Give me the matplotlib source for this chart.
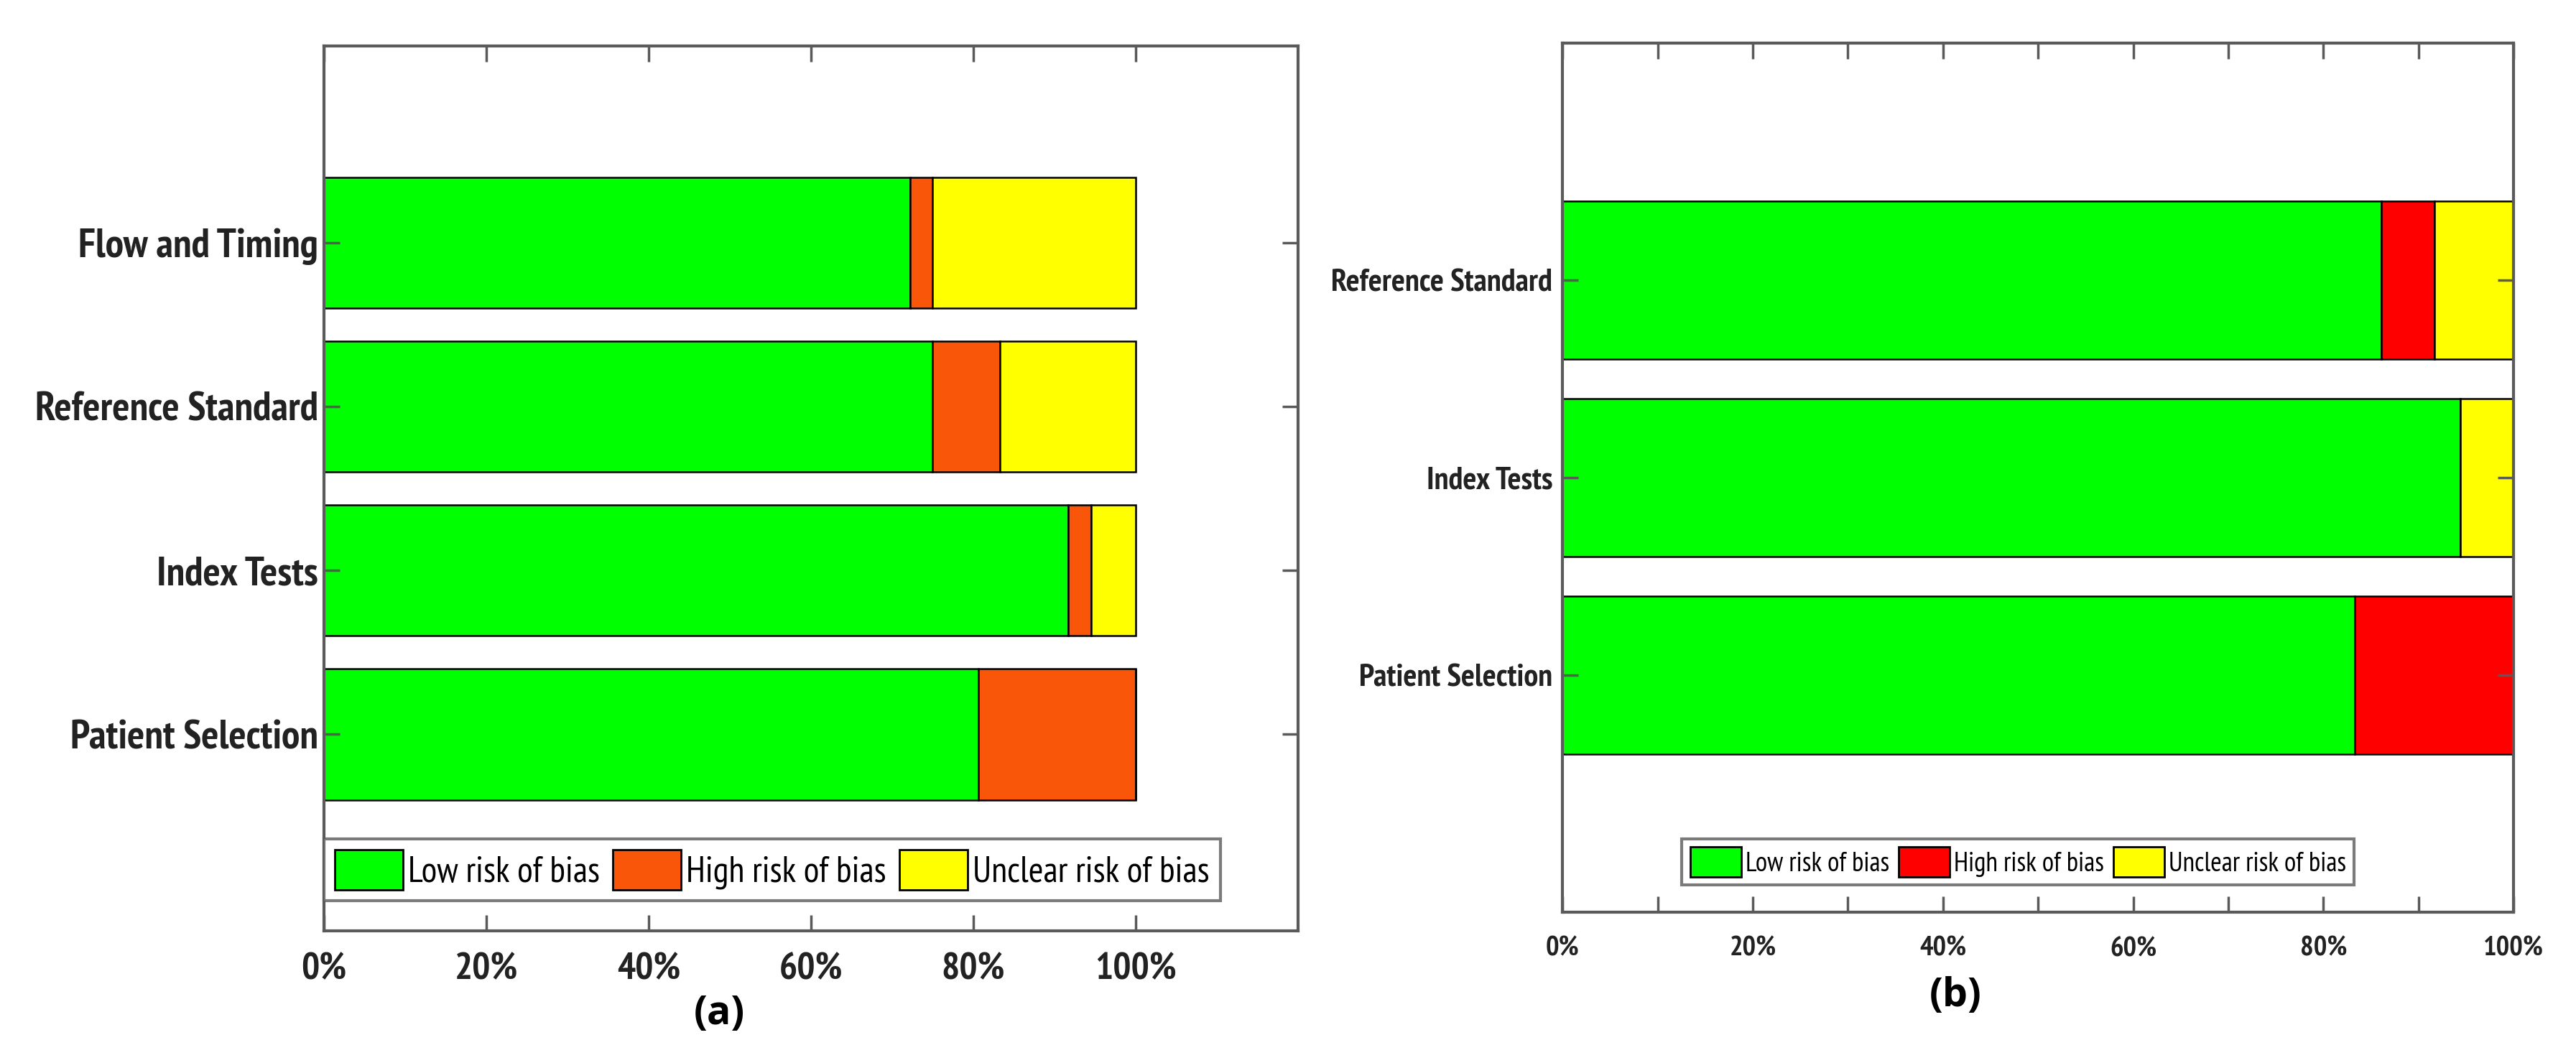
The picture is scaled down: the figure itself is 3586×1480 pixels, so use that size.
import numpy as np
import matplotlib
matplotlib.use("Agg")
import matplotlib.pyplot as plt
from matplotlib.patches import Patch

# ---- data (percent of studies) ----
domains_a = ["Patient Selection", "Index Tests", "Reference Standard", "Flow and Timing"]
low_a = [80.6, 91.7, 75.0, 72.2]
high_a = [19.4, 2.8, 8.3, 2.8]
unclear_a = [0.0, 5.5, 16.7, 25.0]

domains_b = ["Patient Selection", "Index Tests", "Reference Standard"]
low_b = [83.3, 94.4, 86.1]
high_b = [16.7, 0.0, 5.6]
unclear_b = [0.0, 5.6, 8.3]

legend_labels = ["Low risk of bias", "High risk of bias", "Unclear risk of bias"]
xtick_vals = [0, 20, 40, 60, 80, 100]
xtick_labels = ["0%", "20%", "40%", "60%", "80%", "100%"]

GREEN = "#00FF00"
ORANGE = "#F9560A"
RED = "#FF0000"
YELLOW = "#FFFF00"
SPINE = "#5a5a5a"
NARROW = ["PT Sans Narrow", "DejaVu Sans"]

fig = plt.figure(figsize=(35.87, 14.80), dpi=100)
ax_a = fig.add_axes([0.1257, 0.1243, 0.3780, 0.8324])
ax_b = fig.add_axes([0.6064, 0.1419, 0.3691, 0.8176])


def draw_panel(ax, names, low, high, unclear, high_col, xmax, minor10,
               lab_fs, tick_fs, leg_fs, leg_anchor, leg_loc, xpad, ypad):
    y = np.arange(1, len(names) + 1)
    low = np.array(low)
    high = np.array(high)
    unclear = np.array(unclear)
    ax.barh(y, low, height=0.8, color=GREEN, edgecolor="black", linewidth=1.8)
    ax.barh(y, high, left=low, height=0.8, color=high_col, edgecolor="black", linewidth=1.8)
    ax.barh(y, unclear, left=low + high, height=0.8, color=YELLOW, edgecolor="black", linewidth=1.8)

    ax.set_xlim(0, xmax)
    ax.set_ylim(-0.2, len(names) + 1.2)
    if minor10:
        ax.set_xticks(np.arange(0, 101, 10))
        ax.set_xticklabels([f"{v}%" if v % 20 == 0 else "" for v in range(0, 101, 10)])
    else:
        ax.set_xticks(xtick_vals)
        ax.set_xticklabels(xtick_labels)
    ax.set_yticks(y)
    ax.set_yticklabels(names)
    for t in ax.get_xticklabels():
        t.set_family(NARROW)
        t.set_fontweight("bold")
        t.set_fontsize(tick_fs)
        t.set_color("#222222")
    for t in ax.get_yticklabels():
        t.set_family(NARROW)
        t.set_fontweight("bold")
        t.set_fontsize(lab_fs)
        t.set_color("#222222")
    ax.tick_params(axis="both", direction="in", length=16, width=2.5, color=SPINE,
                   top=True, right=True)
    ax.tick_params(axis="x", pad=xpad)
    ax.tick_params(axis="y", pad=ypad)
    for s in ax.spines.values():
        s.set_color(SPINE)
        s.set_linewidth(3)

    handles = [Patch(facecolor=GREEN, edgecolor="black", linewidth=2),
               Patch(facecolor=high_col, edgecolor="black", linewidth=2),
               Patch(facecolor=YELLOW, edgecolor="black", linewidth=2)]
    leg = ax.legend(handles, legend_labels, ncol=3, loc=leg_loc, bbox_to_anchor=leg_anchor,
                    borderaxespad=0, fancybox=False, frameon=True, handlelength=1.9,
                    handleheight=1.35, handletextpad=0.15, columnspacing=0.35,
                    borderpad=0.3, prop={"family": NARROW, "size": leg_fs})
    leg.get_frame().set_edgecolor(SPINE)
    leg.get_frame().set_linewidth(3)


draw_panel(ax_a, domains_a, low_a, high_a, unclear_a, ORANGE, 120, False,
           41, 38, 36, (0.0, 0.034), "lower left", 22, 6)
draw_panel(ax_b, domains_b, low_b, high_b, unclear_b, RED, 100, True,
           32, 28, 27, (0.479, 0.031), "lower center", 24, 10)

fig.text(0.2793, 0.0466, "(a)", ha="center", va="center", fontsize=40,
         family="Open Sans", fontweight="bold")
fig.text(0.7589, 0.0635, "(b)", ha="center", va="center", fontsize=40,
         family="Open Sans", fontweight="bold")

fig.savefig("out.png", dpi=100, facecolor="white")
